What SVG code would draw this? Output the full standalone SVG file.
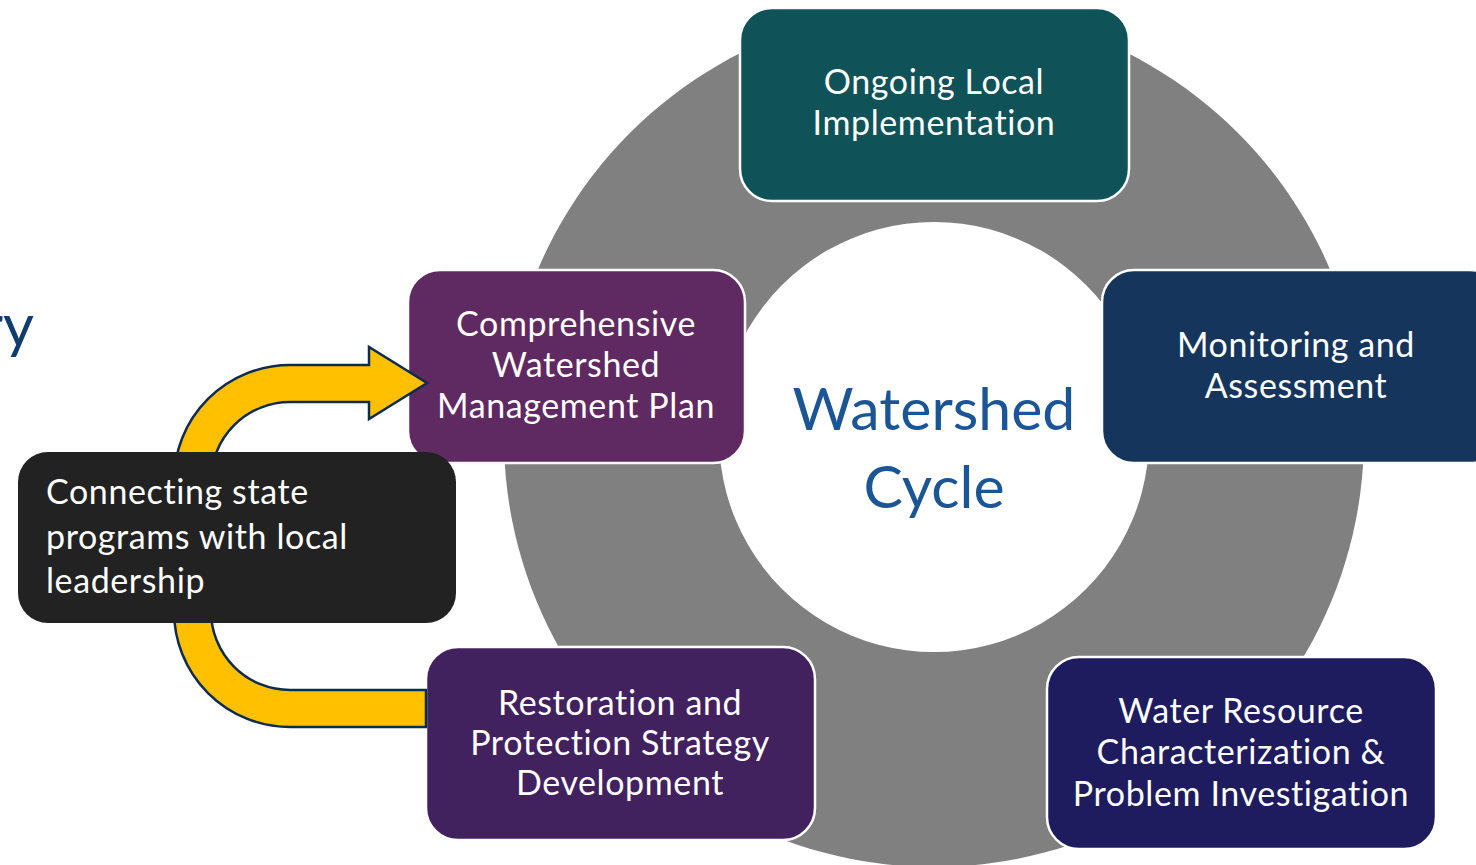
<svg xmlns="http://www.w3.org/2000/svg" width="1476" height="865" viewBox="0 0 1476 865">
<style>
.box{stroke:#ffffff;stroke-width:2.5}
.lbl{font-family:Lato,"Liberation Sans",sans-serif;font-size:34px;letter-spacing:0.6px;fill:#ffffff;text-anchor:middle;font-variant-ligatures:none}
.lft{text-anchor:start}
.title{font-family:Lato,"Liberation Sans",sans-serif;fill:#1b5596;text-anchor:middle;font-size:59px}
</style>
<rect x="0" y="0" width="1476" height="865" fill="#ffffff"/>
<text x="34" y="347" font-family="Lato,'Liberation Sans',sans-serif" font-size="60" fill="#0f3d6e" text-anchor="end">ry</text>
<g id="ring">
<path d="M934 7 A430 430 0 1 1 933.9 7 Z M934 222 A215 215 0 1 0 934.1 222 Z" fill="#808080" fill-rule="evenodd"/>
</g>
<g id="center">
<text class="title" x="934" y="430">Watershed</text>
<text class="title" x="934" y="508">Cycle</text>
</g>
<g id="ongoing">
<rect class="box" x="740" y="8" width="389" height="193" rx="32" fill="#0f5257"/>
<text class="lbl" x="934" y="94">Ongoing Local</text>
<text class="lbl" x="934" y="135">Implementation</text>
</g>
<g id="monitoring">
<rect class="box" x="1102" y="270" width="400" height="193" rx="32" fill="#15355c"/>
<text class="lbl" x="1296" y="357">Monitoring and</text>
<text class="lbl" x="1296" y="398">Assessment</text>
</g>
<g id="water">
<rect class="box" x="1047" y="657" width="389" height="192" rx="32" fill="#1e1b5e"/>
<text class="lbl" x="1241" y="723">Water Resource</text>
<text class="lbl" x="1241" y="764">Characterization &amp;</text>
<text class="lbl" x="1241" y="806">Problem Investigation</text>
</g>
<g id="restoration">
<rect class="box" x="426" y="647" width="389" height="193" rx="32" fill="#42215f"/>
<text class="lbl" x="620" y="715">Restoration and</text>
<text class="lbl" x="620" y="755">Protection Strategy</text>
<text class="lbl" x="620" y="795">Development</text>
</g>
<g id="plan">
<rect class="box" x="408" y="270" width="337" height="193" rx="32" fill="#5f2961"/>
<text class="lbl" x="576" y="336">Comprehensive</text>
<text class="lbl" x="576" y="377">Watershed</text>
<text class="lbl" x="576" y="418">Management Plan</text>
</g>
<g id="connectors">
<path d="M426 690 L290 690 A79 79 0 0 1 211 611 L211 481 A79 79 0 0 1 290 402 L369 402 L369 419 L427 383 L369 347 L369 365 L290 365 A116 116 0 0 0 174 481 L174 611 A116 116 0 0 0 290 727 L426 727 Z" fill="#ffc000" stroke="#0d2b4e" stroke-width="2.5" stroke-linejoin="miter"/>
</g>
<g id="connecting">
<rect x="18" y="452" width="438" height="171" rx="30" fill="#222222"/>
<text class="lbl lft" x="46" y="504">Connecting state</text>
<text class="lbl lft" x="46" y="549">programs with local</text>
<text class="lbl lft" x="46" y="593">leadership</text>
</g>
</svg>
